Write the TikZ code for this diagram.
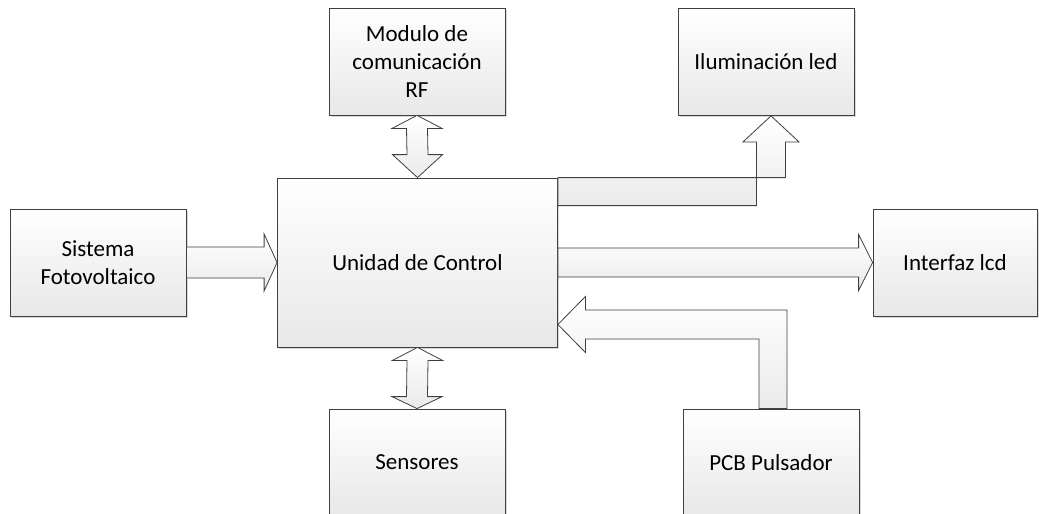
\documentclass[tikz,border=0pt]{standalone}
\usepackage{fontspec}
\setmainfont{Carlito}
\usetikzlibrary{calc,shadows}
\begin{document}
\begin{tikzpicture}[x=1pt,y=-1pt,
  box/.style={draw=black!75, line width=0.8pt, top color=white, bottom color=black!9,
    minimum width=176pt, minimum height=107pt, align=center, inner sep=0pt,
    font=\fontsize{23}{28}\selectfont,
    drop shadow={shadow xshift=1.5pt, shadow yshift=-1.5pt, fill=black!30, opacity=0.5}},
  barrow/.style={draw=black!75, line width=0.8pt, top color=white, bottom color=black!8, line join=miter}]
\useasboundingbox (0,0) rectangle (1039,514);
\fill[white] (0,0) rectangle (1039,514);
% boxes
\node[box] (rf) at (417,61.5) {Modulo de\\comunicación\\RF};
\node[box] (led) at (766,62) {Iluminación led};
\node[box] (sis) at (98,262.5) {Sistema\\Fotovoltaico};
\node[box, minimum width=280pt, minimum height=169pt] (uc) at (417.5,262.5) {Unidad de Control};
\node[box, minimum width=164pt] (lcd) at (955,262.5) {Interfaz lcd};
\node[box] (sen) at (417,462.5) {Sensores};
\node[box] (pcb) at (771,462.5) {PCB Pulsador};
% RF <-> UC
\draw[barrow] (rf.south) -- ($(rf.south)+(25,13)$) -- ($(rf.south)+(10.5,13)$)
  -- ($(uc.north)+(10.5,-23)$) -- ($(uc.north)+(25,-23)$) -- (uc.north)
  -- ($(uc.north)+(-25,-23)$) -- ($(uc.north)+(-10.5,-23)$)
  -- ($(rf.south)+(-10.5,13)$) -- ($(rf.south)+(-25,13)$) -- cycle;
% UC <-> Sensores
\draw[barrow] (uc.south) -- ($(uc.south)+(25,13)$) -- ($(uc.south)+(10.5,13)$)
  -- ($(sen.north)+(10.5,-12)$) -- ($(sen.north)+(25,-12)$) -- (sen.north)
  -- ($(sen.north)+(-25,-12)$) -- ($(sen.north)+(-10.5,-12)$)
  -- ($(uc.south)+(-10.5,13)$) -- ($(uc.south)+(-25,13)$) -- cycle;
% Sistema -> UC
\draw[barrow] ($(sis.east)+(0,-15.5)$) -- ($(uc.west)+(-13,-15.5)$) -- ($(uc.west)+(-13,-28.5)$)
  -- (uc.west) -- ($(uc.west)+(-13,28.5)$) -- ($(uc.west)+(-13,15.5)$) -- ($(sis.east)+(0,15.5)$) -- cycle;
% UC -> Interfaz
\draw[barrow] ($(uc.east)+(0,-14.5)$) -- ($(lcd.west)+(-14,-14.5)$) -- ($(lcd.west)+(-14,-28)$)
  -- (lcd.west) -- ($(lcd.west)+(-14,28)$) -- ($(lcd.west)+(-14,14.5)$) -- ($(uc.east)+(0,14.5)$) -- cycle;
% UC -> Iluminacion
\coordinate (lt) at ($(led.south)+(5,0)$);
\draw[barrow] (uc.north east) -| ($(lt)+(14.5,26)$) -- ($(lt)+(28,26)$) -- (lt)
  -- ($(lt)+(-28,26)$) -- ($(lt)+(-14.5,26)$) |- ($(uc.north east)+(0,28)$) -- cycle;
% PCB -> UC
\coordinate (pt) at ($(uc.east)+(0,62)$);
\draw[barrow] (pt) -- ($(pt)+(27.5,-28)$) -- ($(pt)+(27.5,-14.5)$) -| ($(pcb.north)+(16,0)$)
  -- ($(pcb.north)+(-12,0)$) |- ($(pt)+(27.5,14.5)$) -- ($(pt)+(27.5,28)$) -- cycle;
\end{tikzpicture}
\end{document}
